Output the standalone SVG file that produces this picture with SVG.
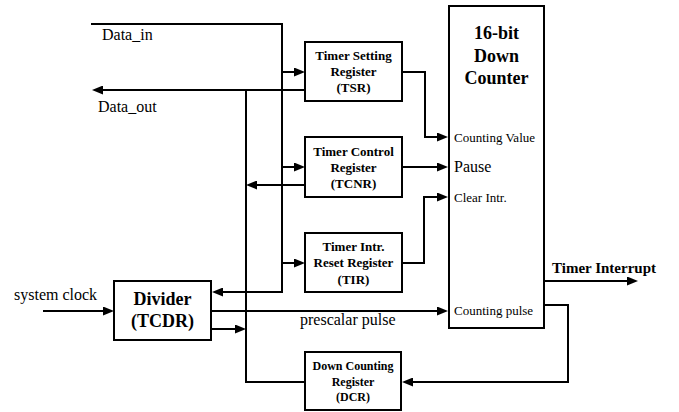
<svg xmlns="http://www.w3.org/2000/svg" width="679" height="412" viewBox="0 0 679 412">
<style>
.box{fill:#fff;stroke:#000;stroke-width:2}
.ln{fill:none;stroke:#000;stroke-width:2}
text{font-family:'Liberation Serif','DejaVu Serif',serif;fill:#000}
.b{font-weight:bold;text-anchor:middle}
.r13{font-size:13px}
.r12{font-size:12px}
.big{font-size:18px}
.s16{font-size:16px}
.s13{font-size:13px}
</style>
<defs>
<marker id="ah" viewBox="0 0 11 9" refX="6" refY="4.5" markerWidth="11" markerHeight="9" markerUnits="userSpaceOnUse" orient="auto">
<path d="M0,0 L11,4.5 L0,9 z" fill="#000"/>
</marker>
</defs>
<rect width="679" height="412" fill="#fff"/>
<g id="connectors">
<path class="ln" d="M91,24 H282 V292 H217" marker-end="url(#ah)"/>
<path class="ln" d="M282,72 H300" marker-end="url(#ah)"/>
<path class="ln" d="M282,167 H300" marker-end="url(#ah)"/>
<path class="ln" d="M282,263 H300" marker-end="url(#ah)"/>
<path class="ln" d="M305,90 H97" marker-end="url(#ah)"/>
<path class="ln" d="M246,90 V382 H305"/>
<path class="ln" d="M305,185 H251" marker-end="url(#ah)"/>
<path class="ln" d="M211,329 H241" marker-end="url(#ah)"/>
<path class="ln" d="M402,72 H425 V137 H443" marker-end="url(#ah)"/>
<path class="ln" d="M402,167 H443" marker-end="url(#ah)"/>
<path class="ln" d="M402,263 H424 V197 H443" marker-end="url(#ah)"/>
<path class="ln" d="M43,311 H109" marker-end="url(#ah)"/>
<path class="ln" d="M211,311 H443" marker-end="url(#ah)"/>
<path class="ln" d="M544,281 H633" marker-end="url(#ah)"/>
<path class="ln" d="M544,305 H568 V382 H407" marker-end="url(#ah)"/>
</g>
<g id="counter">
<rect class="box" x="449" y="6" width="95" height="322"/>
<text class="b big" x="496.5" y="39">16-bit</text>
<text class="b big" x="496.5" y="62">Down</text>
<text class="b big" x="496.5" y="84">Counter</text>
<text class="s13" x="454" y="142">Counting Value</text>
<text class="s16" x="454" y="172">Pause</text>
<text class="s13" x="454" y="202">Clear Intr.</text>
<text class="s13" x="454" y="315">Counting pulse</text>
</g>
<g id="tsr">
<rect class="box" x="305" y="42" width="97" height="59"/>
<text class="b r13" x="353.5" y="60">Timer Setting</text>
<text class="b r13" x="353.5" y="76">Register</text>
<text class="b r13" x="353.5" y="92">(TSR)</text>
</g>
<g id="tcnr">
<rect class="box" x="305" y="137" width="97" height="60"/>
<text class="b r13" x="353.5" y="156">Timer Control</text>
<text class="b r13" x="353.5" y="172">Register</text>
<text class="b r13" x="353.5" y="188">(TCNR)</text>
</g>
<g id="tir">
<rect class="box" x="305" y="233" width="97" height="59"/>
<text class="b r13" x="353.5" y="251">Timer Intr.</text>
<text class="b r13" x="353.5" y="267">Reset Register</text>
<text class="b r13" x="353.5" y="284">(TIR)</text>
</g>
<g id="divider">
<rect class="box" x="114" y="281" width="97" height="59"/>
<text class="b big" x="162.5" y="305">Divider</text>
<text class="b big" x="162.5" y="327">(TCDR)</text>
</g>
<g id="dcr">
<rect class="box" x="305" y="352" width="96" height="58"/>
<text class="b r12" x="353" y="370">Down Counting</text>
<text class="b r12" x="353" y="386">Register</text>
<text class="b r12" x="353" y="401">(DCR)</text>
</g>
<g id="labels">
<text class="s16" x="102" y="40">Data_in</text>
<text class="s16" x="98" y="112">Data_out</text>
<text class="s16" x="14" y="300">system clock</text>
<text class="s16" x="300" y="325">prescalar pulse</text>
<text x="552" y="273" style="font-size:15px;font-weight:bold">Timer Interrupt</text>
</g>
</svg>
